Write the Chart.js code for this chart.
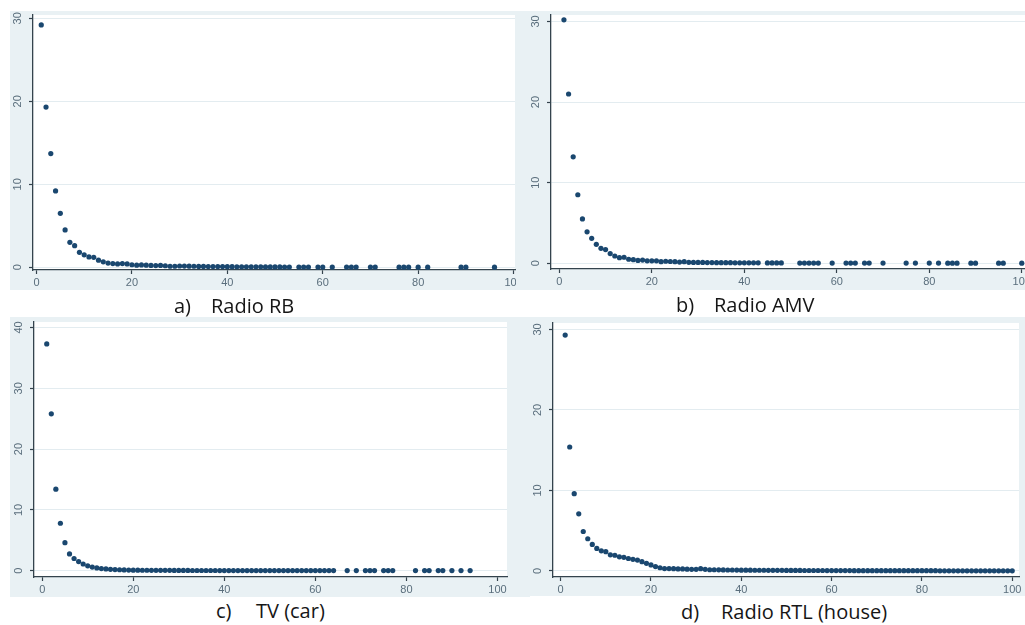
<!DOCTYPE html>
<html>
<head>
<meta charset="utf-8">
<script src="https://cdn.jsdelivr.net/npm/chart.js@4.4.1/dist/chart.umd.min.js"></script>
<style>
  html, body { margin: 0; padding: 0; overflow: hidden; background: #fff; }
  body { position: relative; width: 1025px; height: 625px; }
  .panel { position: absolute; background: #e9f1f4; }
  .panel canvas { display: block; }
  .cap { position: absolute; font-family: "Open Sans", sans-serif; font-size: 20px; line-height: 22px; color: #161616; white-space: pre; }
</style>
</head>
<body>
<div class="panel" style="left:10px;top:11px"><canvas id="chartA" width="520" height="279"></canvas></div>
<div class="panel" style="left:10px;top:317px"><canvas id="chartC" width="520" height="280"></canvas></div>
<div class="panel" style="left:516px;top:11px"><canvas id="chartB" width="529" height="279"></canvas></div>
<div class="panel" style="left:516px;top:317px"><canvas id="chartD" width="529" height="279"></canvas></div>

<span class="cap" style="left:174px;top:295px">a)</span>
<span class="cap" style="left:211px;top:295px">Radio RB</span>
<span class="cap" style="left:676px;top:294px">b)</span>
<span class="cap" style="left:714px;top:294px">Radio AMV</span>
<span class="cap" style="left:216px;top:600px">c)</span>
<span class="cap" style="left:256px;top:600px">TV (car)</span>
<span class="cap" style="left:681px;top:601px">d)</span>
<span class="cap" style="left:721px;top:601px">Radio RTL (house)</span>

<script>
// a) Radio RB
const rbRank = [1,2,3,4,5,6,7,8,9,10,11,12,13,14,15,16,17,18,19,20,21,22,23,24,25,26,27,28,29,30,
  31,32,33,34,35,36,37,38,39,40,41,42,43,44,45,46,47,48,49,50,51,52,53,
  55,56,57,59,60,62,65,66,67,70,71,76,77,78,80,82,89,90,96];
const rbShare = [29.2,19.3,13.7,9.2,6.5,4.5,3.0,2.6,1.8,1.5,
  1.25,1.2,0.85,0.65,0.5,0.45,0.4,0.45,0.4,0.3,
  0.25,0.28,0.25,0.22,0.2,0.22,0.18,0.12,0.12,0.15,
  0.14,0.13,0.12,0.1,0.1,0.09,0.09,0.08,0.08,0.07,
  0.07,0.06,0.06,0.06,0.05,0.05,0.05,0.04,0.04,0.04,
  0.04,0.03,0.03,
  0.03,0.03,0.03,0.02,0.02,0.02,0.02,0.02,0.02,0.02,0.02,0.01,0.01,0.01,0.01,0.01,0.01,0.01,0.01];

// b) Radio AMV
const amvRank = [1,2,3,4,5,6,7,8,9,10,11,12,13,14,15,16,17,18,19,20,21,22,23,24,25,26,27,28,29,30,
  31,32,33,34,35,36,37,38,39,40,41,42,43,
  45,46,47,48,52,53,54,55,56,59,62,63,64,66,67,70,75,77,80,82,84,85,86,89,90,95,96,100];
const amvShare = [30.2,21.0,13.2,8.5,5.5,3.9,3.1,2.35,1.85,1.7,
  1.2,0.9,0.7,0.75,0.5,0.45,0.35,0.4,0.3,0.3,
  0.3,0.2,0.25,0.22,0.2,0.15,0.2,0.12,0.1,0.1,
  0.1,0.09,0.09,0.08,0.08,0.07,0.07,0.06,0.06,0.06,
  0.05,0.05,0.05,
  0.04,0.04,0.04,0.04,0.03,0.03,0.03,0.03,0.03,0.03,0.03,0.03,0.02,0.02,0.02,
  0.02,0.02,0.02,0.02,0.02,0.01,0.01,0.01,0.01,0.01,0.01,0.01,0.01];

// c) TV (car)
const tvRank = [1,2,3,4,5,6,7,8,9,10,11,12,13,14,15,16,17,18,19,20,21,22,23,24,25,26,27,28,29,30,
  31,32,33,34,35,36,37,38,39,40,41,42,43,44,45,46,47,48,49,50,51,52,53,54,55,56,57,58,59,60,
  61,62,63,64,
  67,69,71,72,73,75,76,77,82,84,85,87,88,90,92,94];
const tvShare = [37.3,25.8,13.4,7.8,4.6,2.75,2.0,1.5,1.1,0.8,
  0.6,0.45,0.35,0.28,0.22,0.18,0.15,0.12,0.1,0.09,
  0.08,0.07,0.07,0.06,0.06,0.05,0.05,0.05,0.04,0.04,
  0.04,0.04,0.03,0.03,0.03,0.03,0.03,0.03,0.02,0.02,
  0.02,0.02,0.02,0.02,0.02,0.02,0.02,0.02,0.01,0.01,
  0.01,0.01,0.01,0.01,0.01,0.01,0.01,0.01,0.01,0.01,
  0.01,0.01,0.01,0.01,
  0.01,0.01,0.01,0.01,0.01,0.01,0.01,0.01,0.01,0.01,0.01,0.01,0.01,0.01,0.01,0.01];

// d) Radio RTL (house)
const rtlRank = [1,2,3,4,5,6,7,8,9,10,11,12,13,14,15,16,17,18,19,20,21,22,23,24,25,26,27,28,29,30,
  31,32,33,34,35,36,37,38,39,40,41,42,43,44,45,46,47,48,49,50,51,52,53,54,55,56,57,58,59,60,
  61,62,63,64,65,66,67,68,69,70,71,72,73,74,75,76,77,78,79,80,81,82,83,84,85,86,87,88,89,90,
  91,92,93,94,95,96,97,98,99,100];
const rtlShare = [29.3,15.4,9.6,7.1,4.9,4.0,3.3,2.8,2.5,2.4,
  2.0,1.95,1.75,1.7,1.55,1.45,1.35,1.15,0.95,0.75,
  0.55,0.4,0.3,0.3,0.28,0.25,0.25,0.22,0.2,0.2,
  0.28,0.2,0.15,0.15,0.14,0.13,0.12,0.12,0.11,0.1,
  0.1,0.1,0.09,0.09,0.09,0.08,0.08,0.08,0.08,0.07,
  0.07,0.07,0.07,0.06,0.06,0.06,0.06,0.06,0.05,0.05,
  0.05,0.05,0.05,0.05,0.04,0.04,0.04,0.04,0.04,0.04,
  0.04,0.04,0.03,0.03,0.03,0.03,0.03,0.03,0.03,0.03,
  0.03,0.03,0.03,0.02,0.02,0.02,0.02,0.02,0.02,0.02,
  0.02,0.02,0.02,0.02,0.02,0.02,0.02,0.02,0.02,0.02];

// tick labels
const xTicks = [0, 20, 40, 60, 80, 100];
const yTicks30 = [0, 10, 20, 30];
const yTicks40 = [0, 10, 20, 30, 40];

const markerColor = '#1a476f';
const axisColor = '#34434d';
const gridColor = '#e3ecf0';
const tickTextColor = '#5a6e7c';

// white plot region on the bluish graph region
const plotBg = {
  id: 'plotBg',
  beforeDraw(chart) {
    const a = chart.chartArea;
    const ctx = chart.ctx;
    ctx.save();
    ctx.fillStyle = '#ffffff';
    ctx.fillRect(a.left, a.top, a.right - a.left, a.bottom - a.top);
    ctx.restore();
  }
};

function makePanel(id, ranks, shares, yTicks, box) {
  const points = ranks.map((r, i) => ({ x: r, y: shares[i] }));
  return new Chart(document.getElementById(id), {
    type: 'scatter',
    data: {
      datasets: [{
        data: points,
        pointRadius: 2.6,
        pointBackgroundColor: markerColor,
        pointBorderWidth: 0,
        showLine: false
      }]
    },
    options: {
      responsive: false,
      animation: false,
      layout: { padding: { top: box.top, right: box.right, left: 0, bottom: 0 } },
      plugins: { legend: { display: false }, tooltip: { enabled: false } },
      scales: {
        x: {
          type: 'linear',
          min: box.xMin,
          max: box.xMax,
          afterBuildTicks: s => { s.ticks = xTicks.map(v => ({ value: v })); },
          afterFit: s => { s.height = box.xh; s.paddingLeft = 0; s.paddingRight = 0; },
          grid: { drawOnChartArea: false, tickLength: 4, tickColor: axisColor, tickWidth: 1.2 },
          border: { color: axisColor, width: 1.3 },
          ticks: {
            autoSkip: false, maxRotation: 0, padding: 2, color: tickTextColor,
            font: { family: 'Liberation Sans', size: 11 }
          }
        },
        y: {
          type: 'linear',
          min: box.yMin,
          max: box.yMax,
          afterBuildTicks: s => { s.ticks = yTicks.map(v => ({ value: v })); },
          afterFit: s => { s.width = box.yw; s.paddingTop = 0; s.paddingBottom = 0; },
          grid: { color: gridColor, lineWidth: 1, tickLength: 4, tickColor: axisColor, tickWidth: 1.2 },
          border: { color: axisColor, width: 1.3 },
          ticks: {
            autoSkip: false, minRotation: 90, maxRotation: 90, crossAlign: 'center', padding: 5,
            color: tickTextColor, font: { family: 'Liberation Sans', size: 11 }
          }
        }
      }
    },
    plugins: [plotBg]
  });
}

makePanel('chartA', rbRank, rbShare, yTicks30,
  { top: 4, right: 15, yw: 23, xh: 20, xMin: -0.73, xMax: 100.3, yMin: -0.33, yMax: 30.4 });
makePanel('chartC', tvRank, tvShare, yTicks40,
  { top: 5, right: 23, yw: 24, xh: 20, xMin: -1.8, xMax: 102.1, yMin: -1.04, yMax: 40.9 });
makePanel('chartB', amvRank, amvShare, yTicks30,
  { top: 4, right: 20, yw: 35, xh: 21, xMin: -1.8, xMax: 100.7, yMin: -0.71, yMax: 30.8 });
makePanel('chartD', rtlRank, rtlShare, yTicks30,
  { top: 6, right: 26, yw: 37, xh: 19, xMin: -1.7, xMax: 101.5, yMin: -0.75, yMax: 30.8 });
</script>
</body>
</html>
